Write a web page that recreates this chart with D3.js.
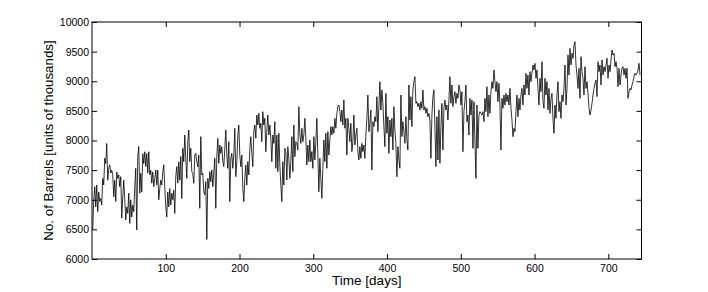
<!DOCTYPE html>
<html>
<head>
<meta charset="utf-8">
<script src="https://cdn.jsdelivr.net/npm/d3@7"></script>
<style>
  body { margin: 0; background: #fff; }
  svg { display: block; font-family: "Liberation Sans", Arial, sans-serif; }
  .axis text { font-size: 10.5px; fill: #000; }
  .axis line { stroke: #000; }
</style>
</head>
<body>
<svg width="708" height="292"></svg>
<script>
// barrels per sample, one reading per pixel column
var barrelsDays1to122 = [6500, 7000, 7220, 6880, 7250, 6800, 7130, 6970, 7020, 6910,
  7360, 7250, 7700, 7610, 7950, 7330, 7530, 7590, 7450, 7500,
  7420, 7050, 7330, 6970, 7470, 7360, 7420, 7220, 7390, 6690,
  7050, 7330, 7000, 6660, 6880, 6770, 7110, 6600, 7000, 6710,
  6910, 6800, 7220, 7530, 6490, 7730, 7900, 7110, 7450, 7130,
  7780, 7610, 7810, 7560, 7780, 7450, 7810, 7420, 7500, 7280,
  7470, 7220, 7360, 7500, 7250, 7500, 7000, 7190, 7330, 7250,
  7470, 7590, 7220, 6880, 6710, 7130, 6880, 7190, 6910, 7110,
  7000, 7160, 6770, 7390, 7560, 7280, 7640, 7330, 7730, 7020];

var barrelsDays123to247 = [7868, 7643, 8093, 7700, 7361, 7980, 8177, 7643, 7868, 7474,
  7446, 7277, 7755, 7783, 7643, 7558, 7755, 6855, 8065, 7418,
  7446, 7136, 7080, 7305, 6330, 7361, 7192, 7474, 7305, 7502,
  7220, 7474, 7700, 6855, 7727, 8037, 7615, 7924, 7783, 7896,
  7643, 7558, 7868, 8177, 7755, 7530, 7980, 6968, 7700, 7783,
  7530, 7755, 8205, 7390, 7643, 8093, 8262, 7755, 7558, 7755,
  7192, 6968, 7361, 7587, 7248, 7643, 7418, 7868, 8065, 7783,
  7558, 8149, 8262, 8037, 8430, 8262, 8459, 8205, 8290, 7980,
  8487, 8262, 8374, 7811, 8177, 8430, 8093, 8262, 8037, 7643,
  8093, 7952, 8318];

var barrelsDays248to373 = [7530, 8093, 7474, 8121, 7587, 7249, 6968, 7643, 7249, 7868,
  7812, 7333, 7896, 7699, 7361, 7643, 8065, 7474, 8262, 7727,
  7980, 7952, 7840, 8571, 8093, 7952, 8206, 7980, 8093, 8374,
  8037, 7587, 7924, 7643, 8008, 7643, 7812, 7530, 8065, 7671,
  7980, 8374, 7755, 7136, 7699, 7361, 7024, 7530, 8008, 7643,
  8121, 7530, 8149, 7755, 8008, 8234, 8093, 8234, 8121, 8374,
  8206, 8459, 8571, 8599, 8487, 8318, 8515, 8262, 8684, 8206,
  8374, 7755, 8374, 8206, 7980, 8290, 7812, 7980, 8430, 7924,
  8093, 8206, 7812, 7671, 7896, 7699, 7952, 7812, 7924, 7699,
  8093, 8374, 8768];

var barrelsDays374to499 = [8149, 8290, 8515, 7502, 8318, 8234, 8402, 8318, 8740, 8149,
  8571, 8993, 8515, 8853, 8627, 8234, 7896, 8796, 8121, 8402,
  7783, 8346, 8065, 8374, 7840, 8571, 8177, 7952, 7389, 7896,
  7671, 7530, 8768, 8065, 8318, 8149, 7952, 8402, 8008, 7840,
  8937, 8346, 8740, 8234, 8853, 8993, 9078, 8627, 8656, 8571,
  8627, 8515, 8656, 8543, 8853, 8515, 8571, 8459, 8543, 8402,
  8459, 8346, 7699, 8430, 8740, 8853, 8234, 7558, 8402, 7671,
  8515, 7615, 8234, 8627, 7840, 8543, 8684, 8515, 8599, 8346,
  8684, 9078, 8627, 8937, 8571, 8740, 8824, 8627, 8796, 8712,
  8937, 8853, 8599];

var barrelsDays500to625 = [8824, 7811, 8487, 8655, 8937, 8318, 8430, 8092, 8711, 8430,
  8683, 7868, 8655, 7980, 7361, 8599, 7868, 8430, 8487, 8458,
  8430, 8487, 8318, 8711, 8487, 8908, 8402, 8768, 8458, 8824,
  8993, 8880, 9190, 8993, 8824, 8993, 8655, 8965, 8599, 7839,
  8711, 8543, 8768, 8599, 8796, 8655, 8768, 8599, 8880, 8543,
  8346, 8064, 8205, 8149, 8487, 8768, 8402, 8711, 8515, 8768,
  8880, 8599, 8937, 8768, 9134, 8880, 9105, 8768, 9162, 8993,
  9134, 9274, 9190, 9302, 9049, 9190, 8880, 8599, 9049, 8824,
  9330, 8655, 8543, 9049, 8768, 8993, 8515, 8880, 8458, 8711,
  8796, 8374, 8121];

var barrelsDays626to743 = [8599, 8374, 8768, 8993, 8487, 8655, 8374, 8768, 8655, 8880,
  9275, 8599, 8880, 9443, 9106, 9556, 9275, 9472, 9387, 9612,
  9668, 9275, 9106, 8880, 9218, 8712, 9415, 9162, 9050, 8768,
  9246, 8880, 8993, 8796, 8543, 8431, 8515, 8627, 8768, 8880,
  8965, 9021, 8740, 9331, 9162, 9275, 8937, 9359, 9106, 9246,
  9162, 9275, 9387, 9050, 9275, 9162, 9359, 9528, 9443, 9472,
  9246, 9331, 9218, 8909, 9218, 8937, 9106, 9218, 9246, 9106,
  9218, 9050, 9218, 8712, 8824, 8880, 8852, 8937, 8993, 9078,
  9134, 9106, 9134, 9190, 9303, 9106];

var firstDay = 1, lastDay = 743;
var xTicks = [100, 200, 300, 400, 500, 600, 700];
var yTicks = [6000, 6500, 7000, 7500, 8000, 8500, 9000, 9500, 10000];

var barrels = [].concat(barrelsDays1to122, barrelsDays123to247, barrelsDays248to373,
  barrelsDays374to499, barrelsDays500to625, barrelsDays626to743);
var step = (lastDay - firstDay) / (barrels.length - 1);
var data = barrels.map(function(v, i) { return {day: firstDay + i * step, value: v}; });

var svg = d3.select("svg"),
    margin = {top: 22, right: 66.5, bottom: 33, left: 92},
    width = +svg.attr("width") - margin.left - margin.right,
    height = +svg.attr("height") - margin.top - margin.bottom,
    g = svg.append("g").attr("transform", "translate(" + margin.left + "," + margin.top + ")");

var x = d3.scaleLinear().domain([0, 745]).range([0, width]);
var y = d3.scaleLinear().domain([6000, 10000]).range([height, 0]);

var line = d3.line()
    .x(function(d) { return x(d.day); })
    .y(function(d) { return y(d.value); });

g.append("path")
    .datum(data)
    .attr("fill", "none")
    .attr("stroke", "#000")
    .attr("stroke-width", 0.8)
    .attr("stroke-linejoin", "round")
    .attr("d", line);

// axes, ticks pointing inward (matlab style)
g.append("g")
    .attr("class", "axis")
    .attr("transform", "translate(0," + height + ")")
    .call(d3.axisBottom(x).tickValues(xTicks).tickFormat(d3.format("d")).tickSizeInner(-5).tickSizeOuter(0).tickPadding(6))
    .call(function(a) { a.select(".domain").remove(); });

g.append("g")
    .attr("class", "axis")
    .call(d3.axisTop(x).tickValues(xTicks).tickSizeInner(-5).tickSizeOuter(0).tickFormat(""))
    .call(function(a) { a.select(".domain").remove(); });

g.append("g")
    .attr("class", "axis")
    .call(d3.axisLeft(y).tickValues(yTicks).tickFormat(d3.format("d")).tickSizeInner(-5).tickSizeOuter(0).tickPadding(3))
    .call(function(a) { a.select(".domain").remove(); });

g.append("g")
    .attr("class", "axis")
    .attr("transform", "translate(" + width + ",0)")
    .call(d3.axisRight(y).tickValues(yTicks).tickSizeInner(-5).tickSizeOuter(0).tickFormat(""))
    .call(function(a) { a.select(".domain").remove(); });

g.append("rect")
    .attr("width", width)
    .attr("height", height)
    .attr("fill", "none")
    .attr("stroke", "#000")
    .attr("stroke-width", 1);

svg.append("text")
    .attr("transform", "translate(53," + (margin.top + height / 2) + ") rotate(-90)")
    .attr("text-anchor", "middle")
    .attr("font-size", 13.3)
    .text("No. of Barrels [units of thousands]");

svg.append("text")
    .attr("x", margin.left + width / 2)
    .attr("y", 285)
    .attr("text-anchor", "middle")
    .attr("font-size", 13.5)
    .text("Time [days]");
</script>
</body>
</html>
